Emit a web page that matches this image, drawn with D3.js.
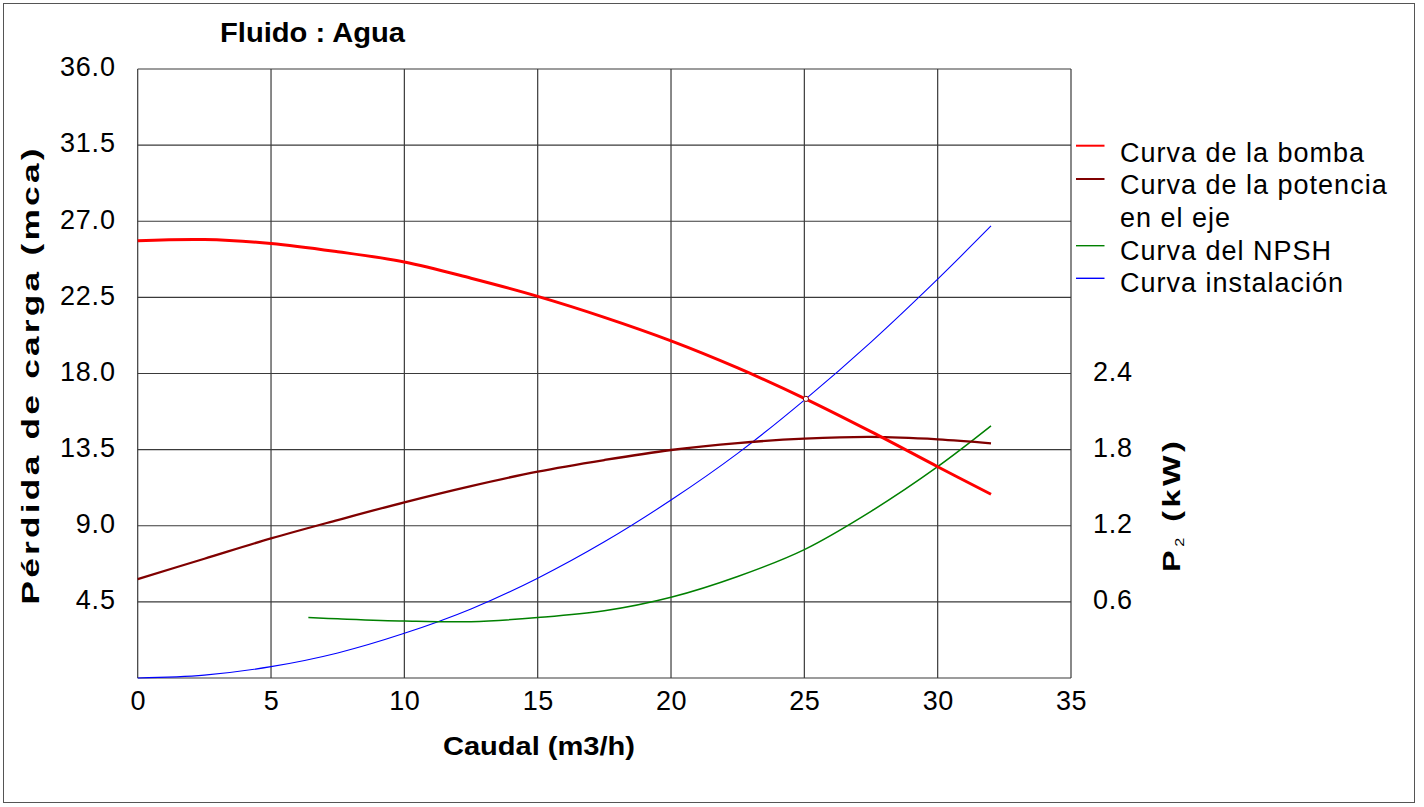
<!DOCTYPE html>
<html>
<head>
<meta charset="utf-8">
<script src="https://cdn.jsdelivr.net/npm/d3@7"></script>
<style>
  html, body { margin: 0; padding: 0; background: #fff; }
  svg { display: block; font-family: "Liberation Sans", Arial, sans-serif; }
</style>
</head>
<body>
<svg id="chart" width="1424" height="807"></svg>
<script>
// ---------------- data ----------------
const xTicks = [0, 5, 10, 15, 20, 25, 30, 35];
const yLeftTicks = [4.5, 9.0, 13.5, 18.0, 22.5, 27.0, 31.5, 36.0];
const yGridTicks = [0, 4.5, 9.0, 13.5, 18.0, 22.5, 27.0, 31.5, 36.0];
const yRightTicks = [0.6, 1.2, 1.8, 2.4];

// Curva de la bomba (mca)
const pumpQ = [0, 2.5, 5, 7.5, 10, 12.5, 15, 17.5, 20, 22.5, 25, 27.5, 30, 32];
const pumpH = [25.85, 25.92, 25.69, 25.2, 24.59, 23.63, 22.56, 21.32, 19.93, 18.33, 16.53, 14.56, 12.49, 10.86];

// Curva de la potencia en el eje (kW)
const powerQ = [0, 2.5, 5, 7.5, 10, 12.5, 15, 17.5, 20, 22.5, 25, 27.5, 30, 32];
const powerP = [0.78, 0.94, 1.10, 1.245, 1.385, 1.513, 1.627, 1.718, 1.797, 1.852, 1.886, 1.900, 1.881, 1.850];

// Curva del NPSH (mca)
const npshQ = [6.4, 7.5, 10, 12.5, 15, 17.5, 20, 22.5, 25, 27.5, 30, 32];
const npshH = [3.57, 3.50, 3.37, 3.33, 3.57, 3.97, 4.77, 6.0, 7.59, 9.85, 12.49, 14.9];

// Curva instalación (mca)
const instQ = [0, 2.5, 5, 7.5, 10, 12.5, 15, 17.5, 20, 22.5, 25, 27.5, 30, 32];
const instH = [0, 0.17, 0.67, 1.48, 2.64, 4.08, 5.9, 8.05, 10.52, 13.28, 16.43, 19.86, 23.58, 26.72];

// Punto de funcionamiento
const operatingPoint = [25.06, 16.5];

const legendLabels = [["Curva de la bomba"], ["Curva de la potencia", "en el eje"], ["Curva del NPSH"], ["Curva instalación"]];
const legendColors = ["#ff0000", "#800000", "#008000", "#0000ff"];

const titleText = "Fluido : Agua";
const xTitle = "Caudal (m3/h)";
const yTitle = "Pérdida de carga (mca)";

// ---------------- layout ----------------
const svg = d3.select("#chart");
const L = 137.7, R = 1071, T = 69, B = 678;

const x = d3.scaleLinear().domain([0, 35]).range([L, R]);
const y = d3.scaleLinear().domain([0, 36]).range([B, T]);
const y2 = d3.scaleLinear().domain([0, 4.8]).range([B, T]);

// outer frame
svg.append("rect").attr("x", 3.5).attr("y", 3.5).attr("width", 1411).attr("height", 799)
  .attr("fill", "none").attr("stroke", "#555").attr("stroke-width", 1);

// grid
const grid = svg.append("g").attr("stroke", "#3a3a3a").attr("stroke-width", 1.2);
grid.selectAll("line.v").data(xTicks).enter().append("line")
  .attr("x1", d => x(d)).attr("x2", d => x(d)).attr("y1", T).attr("y2", B);
grid.selectAll("line.h").data(yGridTicks).enter().append("line")
  .attr("x1", L).attr("x2", R).attr("y1", d => y(d)).attr("y2", d => y(d));

// axes (labels only)
const tickFont = g => g.selectAll("text").attr("font-size", 27).attr("fill", "#000")
  .style("font-family", "'Liberation Sans', Arial, sans-serif");

const xAxis = svg.append("g").attr("transform", `translate(0,${B})`)
  .call(d3.axisBottom(x).tickValues(xTicks).tickFormat(d3.format("d")).tickSize(0).tickPadding(13));
xAxis.select(".domain").remove();
xAxis.call(tickFont);
xAxis.selectAll("text").style("letter-spacing", "0.5px");

const yAxis = svg.append("g").attr("transform", `translate(${L},0)`)
  .call(d3.axisLeft(y).tickValues(yLeftTicks).tickFormat(d3.format(".1f")).tickSize(0).tickPadding(22));
yAxis.select(".domain").remove();
yAxis.call(tickFont);
yAxis.selectAll("text").attr("dy", "0.25em").style("letter-spacing", "0.8px");

const yAxis2 = svg.append("g").attr("transform", `translate(${R},0)`)
  .call(d3.axisRight(y2).tickValues(yRightTicks).tickFormat(d3.format(".1f")).tickSize(0).tickPadding(22));
yAxis2.select(".domain").remove();
yAxis2.call(tickFont);
yAxis2.selectAll("text").attr("dy", "0.25em").style("letter-spacing", "0.8px");

// curves
const mk = (xs, ys, ys_scale) => xs.map((q, i) => [x(q), ys_scale(ys[i])]);
const line = d3.line().curve(d3.curveCatmullRom.alpha(0.5));

svg.append("path").attr("d", line(mk(instQ, instH, y)))
  .attr("fill", "none").attr("stroke", "#0000ff").attr("stroke-width", 1.1);
svg.append("path").attr("d", line(mk(npshQ, npshH, y)))
  .attr("fill", "none").attr("stroke", "#008000").attr("stroke-width", 1.5);
svg.append("path").attr("d", line(mk(powerQ, powerP, y2)))
  .attr("fill", "none").attr("stroke", "#800000").attr("stroke-width", 2.3);
svg.append("path").attr("d", line(mk(pumpQ, pumpH, y)))
  .attr("fill", "none").attr("stroke", "#ff0000").attr("stroke-width", 3);

svg.append("circle").attr("cx", x(operatingPoint[0])).attr("cy", y(operatingPoint[1])).attr("r", 2.6)
  .attr("fill", "#fff").attr("stroke", "#800000").attr("stroke-width", 1);

// titles
svg.append("text").attr("x", 220).attr("y", 41.5).attr("font-size", 27).attr("font-weight", "bold")
  .attr("textLength", 185).attr("lengthAdjust", "spacingAndGlyphs").text(titleText);

svg.append("text").attr("x", 443).attr("y", 755).attr("font-size", 26).attr("font-weight", "bold")
  .attr("textLength", 192).attr("lengthAdjust", "spacingAndGlyphs").text(xTitle);

svg.append("text").attr("transform", "translate(38.5,376.5) rotate(-90) scale(1.5,1)")
  .attr("text-anchor", "middle").attr("font-size", 23.5).attr("font-weight", "bold")
  .attr("textLength", 456 / 1.5).attr("lengthAdjust", "spacing").text(yTitle);

const p2 = svg.append("text").attr("transform", "translate(1180,572) rotate(-90) scale(1.35,1)")
  .attr("font-size", 24).attr("font-weight", "bold").style("letter-spacing", "2.6px");
p2.append("tspan").text("P");
p2.append("tspan").attr("font-size", 12).attr("font-weight", "normal").attr("dy", 4).text("2");
p2.append("tspan").attr("dy", -4).text("  (kW)");

// legend
const legendRowY = [145.7, 179, 245.7, 278.3];
let row = 0;
const baseY = [161.7, 194, 226.5, 260, 292.3];
legendLabels.forEach((lines, i) => {
  svg.append("line").attr("x1", 1076).attr("x2", 1104.5)
    .attr("y1", legendRowY[i]).attr("y2", legendRowY[i])
    .attr("stroke", legendColors[i]).attr("stroke-width", i < 2 ? 2 : 1.4);
  lines.forEach(t => {
    svg.append("text").attr("x", 1120).attr("y", baseY[row]).attr("font-size", 27)
      .style("letter-spacing", "1px").text(t);
    row++;
  });
});
</script>
</body>
</html>
